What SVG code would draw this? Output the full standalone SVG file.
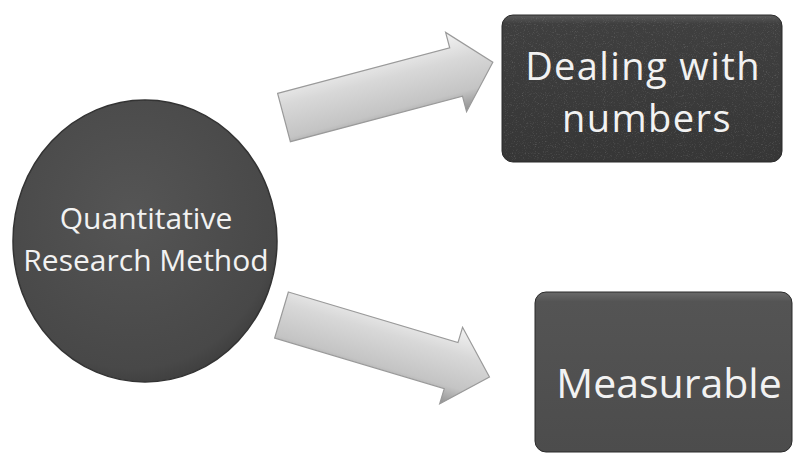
<svg xmlns="http://www.w3.org/2000/svg" width="795" height="457" viewBox="0 0 795 457">
  <defs>
    <radialGradient id="circFill" cx="0.45" cy="0.4" r="0.65">
      <stop offset="0" stop-color="#555555"/>
      <stop offset="0.85" stop-color="#484848"/>
      <stop offset="1" stop-color="#3a3a3a"/>
    </radialGradient>
    <linearGradient id="boxTop" x1="0" y1="0" x2="0" y2="1">
      <stop offset="0" stop-color="#5a5a5a"/>
      <stop offset="0.06" stop-color="#3f3f3f"/>
      <stop offset="1" stop-color="#363636"/>
    </linearGradient>
    <linearGradient id="boxBot" x1="0" y1="0" x2="0" y2="1">
      <stop offset="0" stop-color="#6a6a6a"/>
      <stop offset="0.06" stop-color="#545454"/>
      <stop offset="1" stop-color="#4c4c4c"/>
    </linearGradient>
    <linearGradient id="arrowFill" gradientUnits="userSpaceOnUse" x1="0" y1="-41" x2="0" y2="41">
      <stop offset="0" stop-color="#f4f4f4"/>
      <stop offset="0.35" stop-color="#d8d8d8"/>
      <stop offset="0.75" stop-color="#c4c4c4"/>
      <stop offset="1" stop-color="#8e8e8e"/>
    </linearGradient>
    <filter id="grain" x="0" y="0" width="1" height="1">
      <feTurbulence type="fractalNoise" baseFrequency="0.9" numOctaves="2" seed="3" result="n"/>
      <feColorMatrix in="n" type="matrix" values="0 0 0 0 0.75  0 0 0 0 0.75  0 0 0 0 0.75  0 0 0 1.6 -0.9"/>
      <feComposite in2="SourceGraphic" operator="in"/>
    </filter>
  </defs>
  <style>
    .lbl { font-family: "Open Sans", "Liberation Sans", sans-serif; fill: #f2f2f2; text-anchor: middle; }
    .arrow { fill: url(#arrowFill); stroke: #9a9a9a; stroke-width: 1.2; stroke-linejoin: miter; }
    .box { stroke: #2a2a2a; stroke-width: 1; }
  </style>
  <rect width="795" height="457" fill="#ffffff"/>

  <g id="connectors">
    <g id="arrow-top" transform="translate(284,117.5) rotate(-14.8)">
      <polygon class="arrow" points="0,-25 178,-25 178,-41 216,0 178,41 178,25 0,25"/>
    </g>
    <g id="arrow-bottom" transform="translate(281.5,315) rotate(16.6)">
      <polygon class="arrow" points="0,-24 177,-24 177,-40 217,0 177,40 177,24 0,24"/>
    </g>
  </g>

  <g id="node-quantitative">
    <ellipse cx="145" cy="241" rx="132" ry="141" fill="url(#circFill)" stroke="#333333" stroke-width="1.5"/>
    <text class="lbl" font-size="30"><tspan x="146" y="229">Quantitative</tspan><tspan x="146" y="271">Research Method</tspan></text>
  </g>

  <g id="node-dealing">
    <rect class="box" x="502" y="15" width="280" height="147" rx="11" fill="url(#boxTop)"/>
    <rect x="504" y="17" width="276" height="143" rx="10" fill="#000" opacity="0.35" filter="url(#grain)"/>
    <text class="lbl" font-size="38" letter-spacing="1.4"><tspan x="643" y="80">Dealing with</tspan><tspan x="647" y="132">numbers</tspan></text>
  </g>

  <g id="node-measurable">
    <rect class="box" x="535" y="292" width="257" height="160" rx="11" fill="url(#boxBot)"/>
    <text class="lbl" x="669" y="398" font-size="41">Measurable</text>
  </g>
</svg>
